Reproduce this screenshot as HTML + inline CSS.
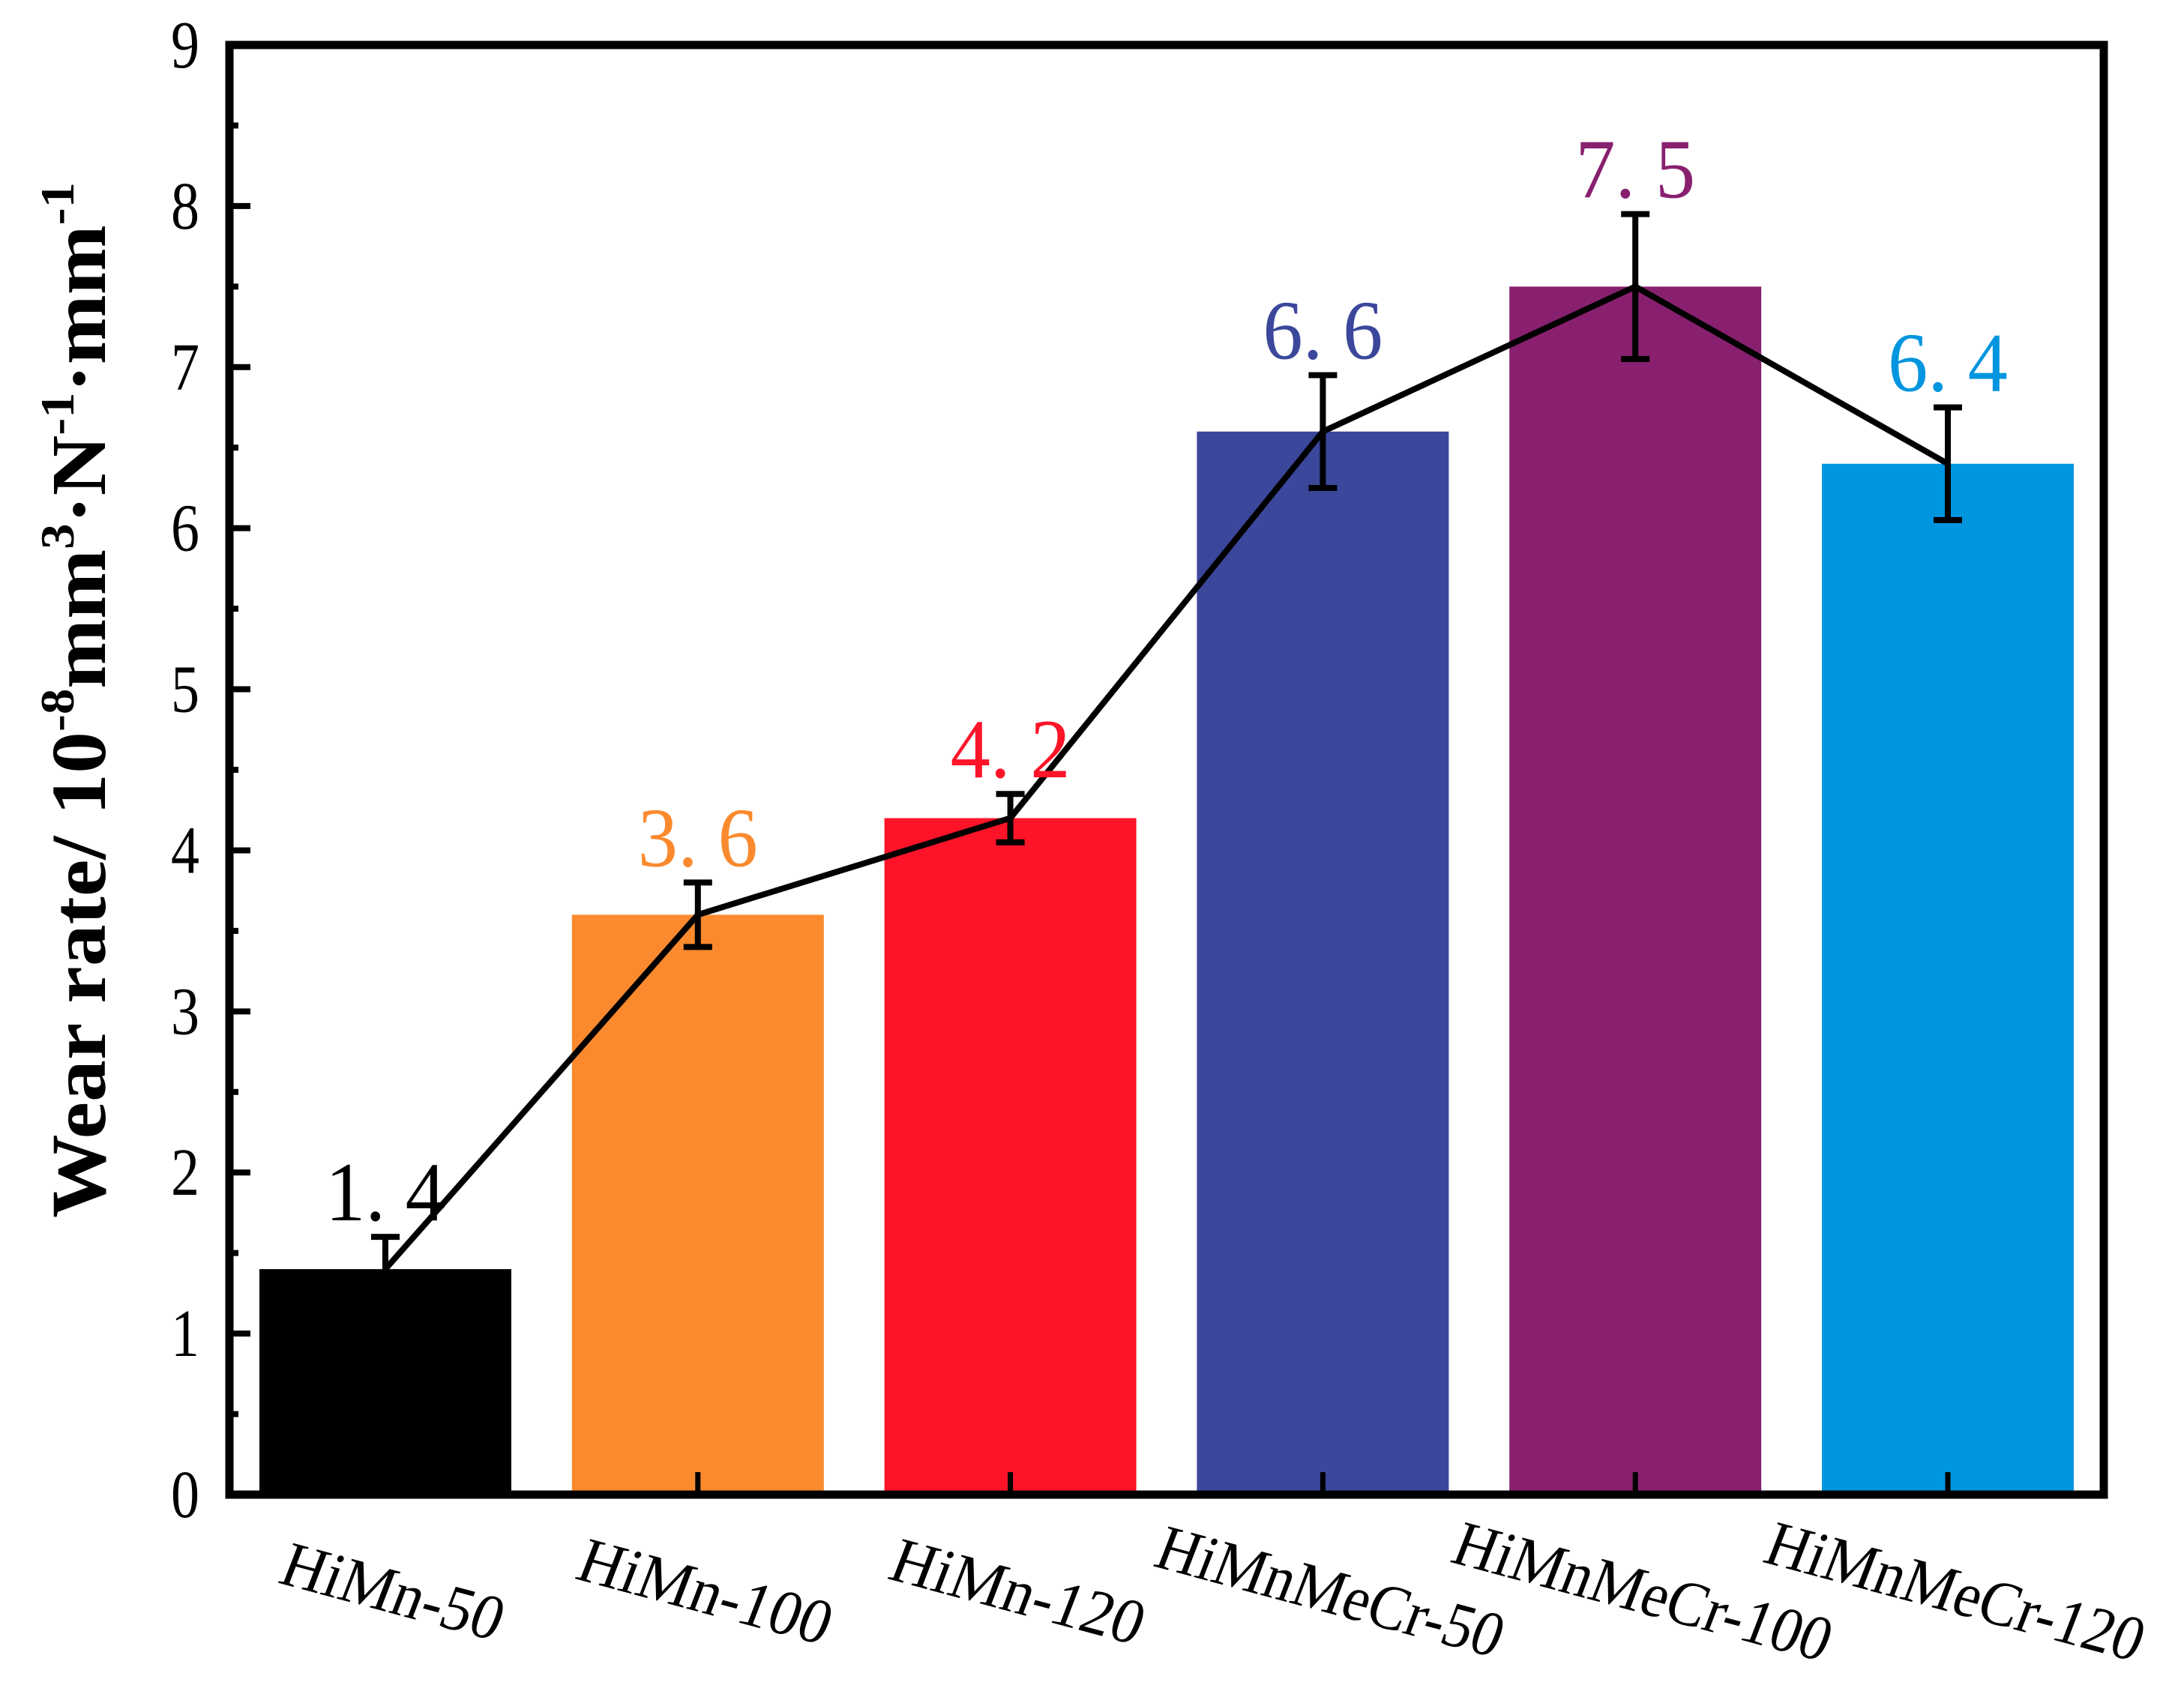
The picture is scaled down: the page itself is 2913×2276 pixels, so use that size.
<!DOCTYPE html>
<html><head><meta charset="utf-8"><style>
html,body{margin:0;padding:0;background:#fff;}
svg{display:block;}
text{font-family:"Liberation Serif","Noto Serif CJK SC",serif;}
</style></head><body>
<svg id="chart" width="2913" height="2276" viewBox="0 0 2913 2276" xmlns="http://www.w3.org/2000/svg">
<rect x="0" y="0" width="2913" height="2276" fill="#fff"/>
<g id="bars"></g>
<g id="errs"></g>
<g id="line"></g>
<g id="vals"></g>
<g id="axes"></g>
<text transform="translate(140,934) rotate(-90)" text-anchor="middle" font-size="104" font-weight="bold" textLength="1382" lengthAdjust="spacingAndGlyphs">Wear rate/ 10<tspan font-size="64" dy="-42">-8</tspan><tspan dy="42">mm</tspan><tspan font-size="64" dy="-42">3</tspan><tspan dy="42">·N</tspan><tspan font-size="64" dy="-42">-1</tspan><tspan dy="42">·mm</tspan><tspan font-size="64" dy="-42">-1</tspan></text>
</svg>
<script>
const categories=["HiMn-50","HiMn-100","HiMn-120","HiMnMeCr-50","HiMnMeCr-100","HiMnMeCr-120"];
const values=[1.4,3.6,4.2,6.6,7.5,6.4];
const errors=[0.2,0.2,0.15,0.35,0.45,0.35];
const valueLabels=["1. 4","3. 6","4. 2","6. 6","7. 5","6. 4"];
const colors=["#000000","#fb8a2e","#fd1429","#3b479b","#88206f","#0095df"];
const yTicks=[0,1,2,3,4,5,6,7,8,9];

const NS="http://www.w3.org/2000/svg";
const L=306,R=2806,T=60,B=1994,yMax=9;
const y=v=>B-(v/yMax)*(B-T);
const step=416.8, x0=514;
const x=i=>x0+i*step;
const bw=336;
function mk(tag,attrs,parent){const e=document.createElementNS(NS,tag);for(const k in attrs)e.setAttribute(k,attrs[k]);parent.appendChild(e);return e;}
const gb=document.getElementById('bars'),ge=document.getElementById('errs'),gl=document.getElementById('line'),gv=document.getElementById('vals'),ga=document.getElementById('axes');
values.forEach((v,i)=>{
  const r=mk('rect',{x:x(i)-bw/2,y:y(v),width:bw,height:B-y(v),fill:colors[i]},gb);
  
  
  const e=errors[i];
  const p=mk('path',{d:`M${x(i)},${y(v+e)}V${y(v-e)}M${x(i)-19},${y(v+e)}h38M${x(i)-19},${y(v-e)}h38`,stroke:'#000','stroke-width':8,fill:'none'},ge);
  
  
  const t=mk('text',{x:x(i),y:y(v+e)-22,'text-anchor':'middle','font-size':112,fill:colors[i],textLength:160,lengthAdjust:'spacingAndGlyphs'},gv);
  t.textContent=valueLabels[i];
  
  
  const lab=mk('text',{transform:`translate(${x(i)},2150) rotate(15) skewX(-6)`,'text-anchor':'middle','font-size':86,fill:'#000',textLength:43*categories[i].length,lengthAdjust:'spacingAndGlyphs'},ga);
  lab.textContent=categories[i];
  
  
  const tk=mk('line',{x1:x(i),x2:x(i),y1:B,y2:B-30,stroke:'#000','stroke-width':7},ga);
  
  
});
const pl=mk('polyline',{points:values.map((v,i)=>x(i)+','+y(v)).join(' '),fill:'none',stroke:'#000','stroke-width':8,'stroke-linejoin':'miter'},gl);


yTicks.forEach(t=>{
  const tk=mk('line',{x1:L,x2:L+28,y1:y(t),y2:y(t),stroke:'#000','stroke-width':8},ga);
  
  
  if(t<yMax){
    const mt=mk('line',{x1:L,x2:L+12,y1:y(t+0.5),y2:y(t+0.5),stroke:'#000','stroke-width':8},ga);
    
    
  }
  const lb=mk('text',{x:266,y:y(t)+30,'text-anchor':'end','font-size':90,fill:'#000',textLength:38,lengthAdjust:'spacingAndGlyphs'},ga);
  lb.textContent=String(t);
  
  
});
const fr=mk('rect',{x:L,y:T,width:R-L,height:B-T,fill:'none',stroke:'#000','stroke-width':11},ga);


</script>
</body></html>
